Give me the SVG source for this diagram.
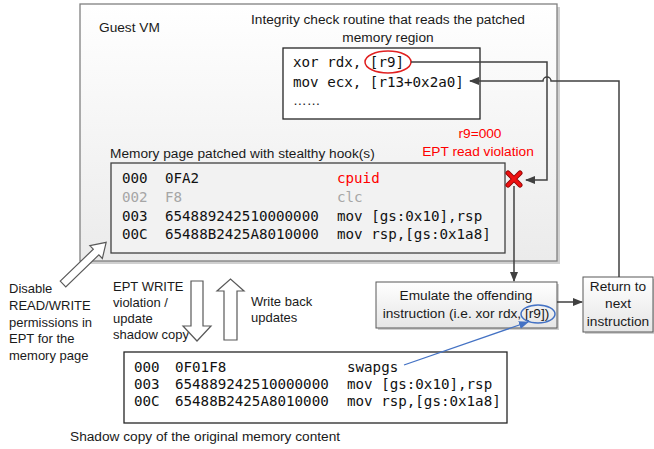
<svg xmlns="http://www.w3.org/2000/svg" width="654" height="449" viewBox="0 0 654 449">
<style>
.s{font-family:"Liberation Sans",Arial,sans-serif;font-size:13.7px;fill:#1a1a1a}
.n{font-size:13px}
.m{font-family:"DejaVu Sans Mono","Liberation Mono",monospace;font-size:14.2px;fill:#111}
.c{stroke:#404040;stroke-width:1.5;fill:none}
.red{fill:#ff0000}
.hollow{fill:#fff;stroke:#595959;stroke-width:1.2}
</style>
<defs>
<linearGradient id="gvm" x1="0" y1="0" x2="0" y2="1"><stop offset="0" stop-color="#ffffff"/><stop offset="1" stop-color="#ebebeb"/></linearGradient>
<linearGradient id="gbox" x1="0" y1="0" x2="0" y2="1"><stop offset="0" stop-color="#ffffff"/><stop offset="1" stop-color="#e6e6e6"/></linearGradient>
<marker id="ah" markerWidth="10" markerHeight="10" refX="9" refY="5" orient="auto" markerUnits="userSpaceOnUse"><path d="M0,1 L10,5 L0,9 z" fill="#404040"/></marker>
<marker id="ab" markerWidth="10" markerHeight="10" refX="9" refY="5" orient="auto" markerUnits="userSpaceOnUse"><path d="M0,1 L10,5 L0,9 z" fill="#4472c4"/></marker>
</defs>
<rect width="654" height="449" fill="#fff"/>

<g id="guest-vm">
<rect x="83" y="7" width="477" height="257" fill="#d0d0d0"/>
<rect x="80" y="4" width="477" height="257" fill="url(#gvm)" stroke="#808080" stroke-width="1.3"/>
<text class="s" x="99" y="32" font-size="14">Guest VM</text>
</g>

<g id="integrity-routine">
<text class="s" x="388" y="24" text-anchor="middle">Integrity check routine that reads the patched</text>
<text class="s" x="388" y="42" text-anchor="middle">memory region</text>
<rect x="283" y="48" width="197" height="71" fill="#fff" stroke="#262626" stroke-width="1.3"/>
<text class="m" x="293" y="67">xor rdx, [r9]</text>
<text class="m" x="293" y="87">mov ecx, [r13+0x2a0]</text>
<text class="s" x="293" y="105" font-size="10">……</text>
<ellipse cx="388" cy="62" rx="23" ry="11" fill="none" stroke="#e02020" stroke-width="1.5"/>
</g>

<g id="violation-label">
<text class="s red" x="480" y="138" text-anchor="middle">r9=000</text>
<text class="s red" x="478" y="156" text-anchor="middle">EPT read violation</text>
</g>

<g id="memory-page">
<text class="s" x="110" y="158">Memory page patched with stealthy hook(s)</text>
<rect x="111" y="163" width="394" height="90" fill="#f2f2f2" stroke="#404040" stroke-width="1.3"/>
<text class="m" x="122" y="183">000</text><text class="m" x="165" y="183">0FA2</text><text class="m" x="337" y="183" style="fill:#ff0000">cpuid</text>
<text class="m" x="122" y="202" style="fill:#a6a6a6">002</text><text class="m" x="165" y="202" style="fill:#a6a6a6">F8</text><text class="m" x="337" y="202" style="fill:#a6a6a6">clc</text>
<text class="m" x="122" y="221">003</text><text class="m" x="165" y="221">654889242510000000</text><text class="m" x="337" y="221">mov [gs:0x10],rsp</text>
<text class="m" x="122" y="239">00C</text><text class="m" x="165" y="239">65488B2425A8010000</text><text class="m" x="337" y="239">mov rsp,[gs:0x1a8]</text>
</g>

<g id="red-x">
<path d="M508,173 L520,185 M520,173 L508,185" stroke="#8b0000" stroke-width="5" stroke-linecap="round"/>
<path d="M508,173 L520,185 M520,173 L508,185" stroke="#ee1111" stroke-width="3.2" stroke-linecap="round"/>
</g>

<g id="emulate">
<rect x="378" y="284" width="181" height="46" fill="#cfcfcf"/>
<rect x="376" y="282" width="181" height="46" fill="url(#gbox)" stroke="#595959" stroke-width="1"/>
<text class="s" x="466" y="300" text-anchor="middle">Emulate the offending</text>
<text class="s" x="466" y="318" text-anchor="middle">instruction (i.e. xor rdx, [r9])</text>
<ellipse cx="538" cy="314" rx="17" ry="9" fill="none" stroke="#4472c4" stroke-width="1.5"/>
</g>

<g id="return">
<rect x="585" y="279" width="70" height="55" fill="#cfcfcf"/>
<rect x="583" y="277" width="70" height="55" fill="url(#gbox)" stroke="#595959" stroke-width="1"/>
<text class="s" x="618" y="291" text-anchor="middle">Return to</text>
<text class="s" x="618" y="308" text-anchor="middle">next</text>
<text class="s" x="618" y="326" text-anchor="middle">instruction</text>
</g>

<g id="shadow-copy">
<rect x="124" y="352" width="383" height="71" fill="#fff" stroke="#262626" stroke-width="1.3"/>
<text class="m" x="134" y="372">000</text><text class="m" x="175" y="372">0F01F8</text><text class="m" x="347" y="372">swapgs</text>
<text class="m" x="134" y="389">003</text><text class="m" x="175" y="389">654889242510000000</text><text class="m" x="347" y="389">mov [gs:0x10],rsp</text>
<text class="m" x="134" y="406">00C</text><text class="m" x="175" y="406">65488B2425A8010000</text><text class="m" x="347" y="406">mov rsp,[gs:0x1a8]</text>
<text class="s" x="70" y="441">Shadow copy of the original memory content</text>
</g>

<g id="disable-note">
<text class="s n" x="9" y="293">Disable</text>
<text class="s n" x="9" y="310">READ/WRITE</text>
<text class="s n" x="9" y="327">permissions in</text>
<text class="s n" x="9" y="343">EPT for the</text>
<text class="s n" x="9" y="360">memory page</text>
<path class="hollow" transform="translate(63,284) rotate(-44)" d="M0,-4 L46,-4 L46,-9 L60,0 L46,9 L46,4 L0,4 z"/>
</g>

<g id="write-arrows">
<text class="s n" x="113" y="291">EPT WRITE</text>
<text class="s n" x="113" y="307">violation /</text>
<text class="s n" x="113" y="323">update</text>
<text class="s n" x="113" y="339">shadow copy</text>
<path class="hollow" d="M191,281 L203,281 L203,326 L211,326 L197,341 L183,326 L191,326 z"/>
<path class="hollow" d="M224,340 L237,340 L237,291 L244,291 L230.5,279 L217,291 L224,291 z"/>
<text class="s n" x="251" y="306">Write back</text>
<text class="s n" x="251" y="322">updates</text>
</g>

<g id="connectors">
<path class="c" d="M411,62 L547,62 L547,180 L526,180" marker-end="url(#ah)"/>
<path class="c" d="M619,277 L619,81 L551,81 A4,4 0 0 0 543,81 L470,81" marker-end="url(#ah)"/>
<path class="c" d="M514,186 L514,281" marker-end="url(#ah)"/>
<path class="c" d="M557,302 L582,302" marker-end="url(#ah)"/>
<path d="M404,365 L528,322" stroke="#4472c4" stroke-width="1.3" fill="none" marker-end="url(#ab)"/>
</g>
</svg>
